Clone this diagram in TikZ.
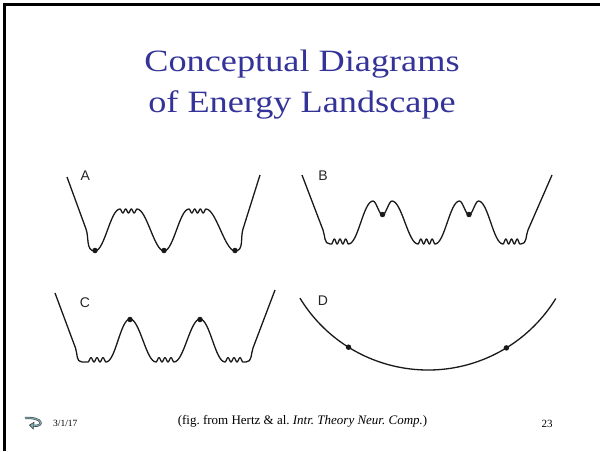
\documentclass[tikz,border=0pt]{standalone}
\usepackage{fontspec}
\setmainfont{Liberation Serif}
\newfontfamily\panelfont{Liberation Sans}
\newfontfamily\titlefont[FakeStretch=1.17]{Liberation Serif}
\usetikzlibrary{positioning,arrows.meta,calc}
\definecolor{titleblue}{RGB}{51,51,153}
\definecolor{iconteal}{RGB}{120,170,180}
\newcommand{\wig}[4]{-- plot[domain=#1:#2, samples=40] (\x, {#3+(#4)*(1-cos(1080/(#2-#1)*(\x-#1)))})}

\begin{document}
\begin{tikzpicture}[x=1pt, y=1pt,
  curve/.style={line width=1.3pt, black!90, line join=round},
  hill/.style={out=0, in=180, looseness=0.5},
  dot/.style={circle, fill=black!90, inner sep=0pt, minimum size=5.5pt},
  lbl/.style={font=\panelfont\fontsize{14}{14}\selectfont, anchor=base, inner sep=0pt, text=black!85},
  title/.style={font=\titlefont\fontsize{31}{31}\selectfont, text=titleblue, anchor=base, inner sep=0pt},
  foot/.style={anchor=base, inner sep=0pt}]
  \useasboundingbox (0,0) rectangle (600,451);
  \draw[line width=2.8pt] (4.6,0) -- (4.6,446.4) -- (600,446.4);

  \node[title] (title1) at (302,379) {Conceptual Diagrams};
  \node[title] (title2) at (302,339) {of Energy Landscape};

  % A
  \draw[curve] (67,274) -- (86,222) to[out=-70,in=180] (95,200)
    to[hill] (120,242) \wig{120}{137}{242}{-2}
    to[hill] (164,200)
    to[hill] (189,242) \wig{189}{206}{242}{-2}
    to[hill] (235,200)
    to[out=0,in=252] (243,222) -- (260,276);
  \node[dot] (a1) at (95,200.5) {};
  \node[dot] (a2) at (164,200.5) {};
  \node[dot] (a3) at (235,200.5) {};
  \node[lbl] (labA) at (85.3,271) {A};

  % B
  \draw[curve] (302,276) -- (323,221) to[out=-69,in=180] (330,207) -- (331.5,207)
    \wig{331.5}{348.5}{207}{2.5}
    to[hill] (373,250) to[hill] (382.5,236) to[hill] (392,250)
    to[hill] (418,207) \wig{418}{435}{207}{2.5}
    to[hill] (459.5,250) to[hill] (469,236) to[hill] (478.5,250)
    to[hill] (503,207) \wig{503}{520}{207}{2.5}
    -- (521,207) to[out=0,in=247] (528,221) -- (552,276);
  \node[dot] (b1) at (382.5,236.5) {};
  \node[dot] (b2) at (469,236.5) {};
  \node[lbl] (labB) at (323,271) {B};

  % C
  \draw[curve] (55,158) -- (75.5,103) to[out=-70,in=180] (82,89) -- (88,89)
    \wig{88}{106}{89}{2.2}
    to[hill] (130,132) to[hill] (156,89) \wig{156}{174}{89}{2.2}
    to[hill] (200,132) to[hill] (225,89) \wig{225}{243}{89}{2.2}
    -- (246,89) to[out=0,in=250] (253,103) -- (275,161);
  \node[dot] (c1) at (130,131.5) {};
  \node[dot] (c2) at (200,131.5) {};
  \node[lbl] (labC) at (85,144) {C};

  % D
  \coordinate (dc) at (428,231);
  \draw[curve] ([shift={(211.4:150)}]dc) arc[start angle=211.4, end angle=328.4, radius=150];
  \node[dot] (d1) at ([shift={(238:150)}]dc) {};
  \node[dot] (d2) at ([shift={(301.5:150)}]dc) {};
  \node[lbl] (labD) at (323,145.5) {D};

  % footer
  \draw[line width=2.2pt, black!75, -{Triangle[length=5pt, width=8pt, fill=iconteal, line width=0.6pt]}]
    (25,33) .. controls (44,34) and (44,24) .. (29,26);
  \draw[line width=1.1pt, iconteal, shorten >=4.5pt] (25,33) .. controls (44,34) and (44,24) .. (29,26);
  \node[foot, anchor=base west, font=\fontsize{9.5}{10}\selectfont] (date) at (53,24.5) {3/1/17};
  \node[foot, font=\fontsize{13}{14}\selectfont] (source) at (302.5,26.7)
    {(fig.\ from Hertz \& al.\ \textit{Intr.\ Theory Neur.\ Comp.})};
  \node[foot, font=\fontsize{11}{12}\selectfont] (pageno) at (547,23.5) {23};
\end{tikzpicture}
\end{document}
